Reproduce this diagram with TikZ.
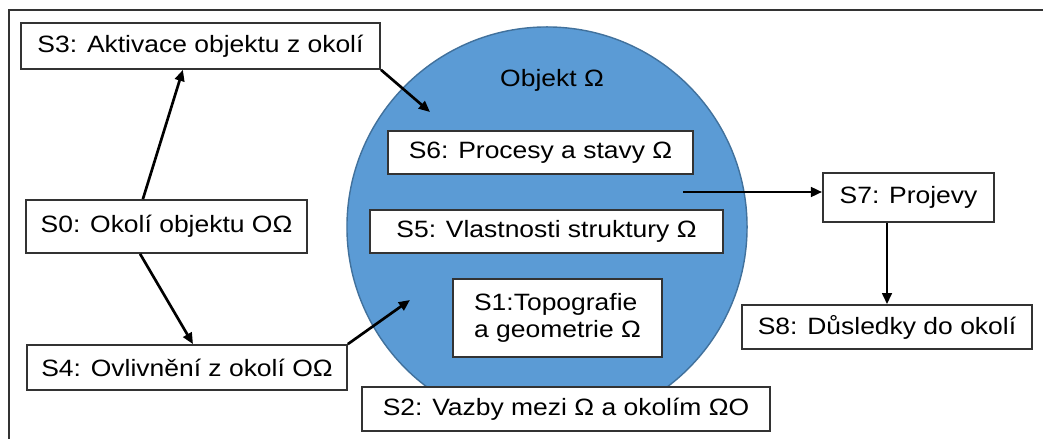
\documentclass[tikz,border=0pt]{standalone}
\usepackage{fontspec}
\setmainfont{Liberation Sans}[FakeStretch=1.12]
\usetikzlibrary{arrows.meta}
\definecolor{objblue}{HTML}{5B9BD5}
\definecolor{objedge}{HTML}{41719C}
\definecolor{boxedge}{HTML}{333333}
\begin{document}
\begin{tikzpicture}[
    x=0.025cm, y=-0.025cm,
    box/.style={
        draw=boxedge,
        fill=white,
        line width=1.1pt,
        inner sep=2pt,
        align=left,
        font=\fontsize{16.8}{19.2}\selectfont
    },
    arrow/.style={-{Triangle[length=2.8mm,width=2.4mm]}, line width=1.9pt}
]
\clip (0,0) rectangle (1043,439);
\draw[line width=1.3pt, boxedge] (9,460) -- (9,10) -- (1060,10);

%==========================
% Objekt
%==========================
\node[circle, fill=objblue, draw=objedge, line width=1pt, minimum size=10cm] (obj) at (547,227) {};
\node[font=\fontsize{16.8}{19.2}\selectfont] (objname) at (552,80) {Objekt Ω};

\node[box, minimum width=7.63cm, minimum height=1.08cm] (s6) at (540.5,152.5) {S6: Procesy a stavy Ω};
\node[box, minimum width=8.83cm, minimum height=1.08cm] (s5) at (546.5,231.5) {S5: Vlastnosti struktury Ω};
\node[box, minimum width=5.23cm, minimum height=1.95cm] (s1) at (557.5,318) {S1:Topografie\\a geometrie Ω};
\node[box, minimum width=10.2cm, minimum height=1.1cm] (s2) at (566,409) {S2: Vazby mezi Ω a okolím ΩO};

\coordinate (in3) at (430,112);
\coordinate (in4) at (410,300);
\coordinate (out7) at (683,192);

%==========================
% Okoli
%==========================
\node[box, minimum width=8.98cm, minimum height=1.15cm] (s3) at (200.5,46) {S3: Aktivace objektu z okolí};
\node[box, minimum width=7.03cm, minimum height=1.33cm] (s0) at (166.5,226.5) {S0: Okolí objektu OΩ};
\node[box, minimum width=8cm, minimum height=1.13cm] (s4) at (187,367.5) {S4: Ovlivnění z okolí OΩ};

\draw[arrow] ([xshift=-0.59cm]s0.north) -- ([xshift=-0.44cm]s3.south);
\draw[arrow] ([xshift=-0.66cm]s0.south) -- ([xshift=0.15cm]s4.north);
\draw[arrow] (s3.south east) -- (in3);
\draw[arrow] (s4.north east) -- (in4);

%==========================
% Projevy
%==========================
\node[box, minimum width=4.28cm, minimum height=1.23cm] (s7) at (908.5,197.5) {S7: Projevy};
\node[box, minimum width=7.25cm, minimum height=1.1cm] (s8) at (887,327) {S8: Důsledky do okolí};

\draw[arrow] (out7) -- (out7 -| s7.west);
\draw[arrow] (s8.north |- s7.south) -- (s8.north);

\end{tikzpicture}
\end{document}
